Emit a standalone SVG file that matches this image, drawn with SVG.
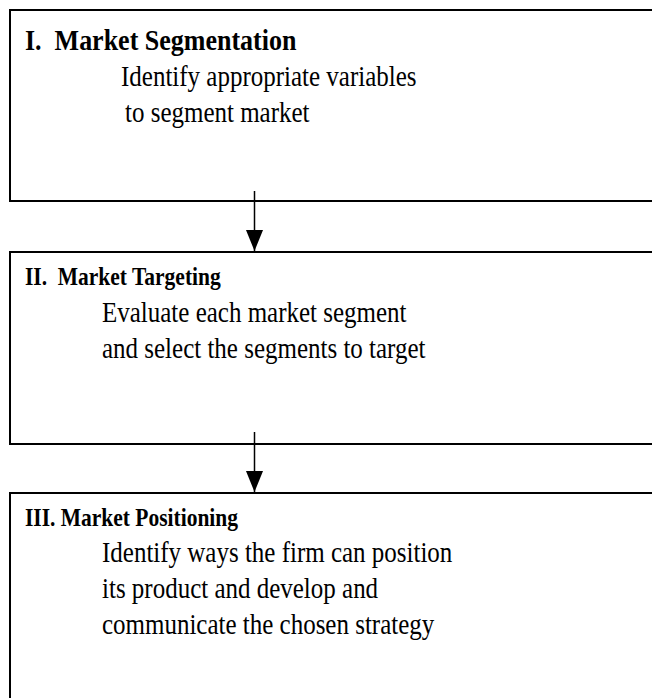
<svg xmlns="http://www.w3.org/2000/svg" width="652" height="698" viewBox="0 0 652 698">
<style>
.box{fill:#fff;stroke:#000;stroke-width:2}
.t{font-family:"Liberation Serif","Times New Roman",serif;fill:#000}
.h1{font-size:26px;font-weight:bold}
.h2{font-size:21.5px;font-weight:bold}
.b{font-size:25px}
.c{stroke:#000;stroke-width:1.5;fill:none}
</style>
<defs>
<marker id="ah" markerUnits="userSpaceOnUse" markerWidth="22" markerHeight="18" refX="21" refY="8.5" orient="auto">
<path d="M0,0 L21,8.5 L0,17 Z" fill="#000"/>
</marker>
</defs>
<rect width="652" height="698" fill="#fff"/>
<g id="node1">
<rect class="box" x="10" y="10" width="660" height="191"/>
<text class="t h1" transform="translate(25,50) scale(1,1.17)" xml:space="preserve">I.  Market Segmentation</text>
<text class="t b" transform="translate(121,86) scale(1,1.17)">Identify appropriate variables</text>
<text class="t b" transform="translate(125,121.5) scale(1,1.17)">to segment market</text>
</g>
<g id="node2">
<rect class="box" x="10" y="252" width="660" height="192"/>
<text class="t h2" transform="translate(25,285) scale(1,1.17)" xml:space="preserve">II.  Market Targeting</text>
<text class="t b" transform="translate(102,321.7) scale(1,1.17)">Evaluate each market segment</text>
<text class="t b" transform="translate(102,358) scale(1,1.17)">and select the segments to target</text>
</g>
<g id="node3">
<rect class="box" x="10" y="493" width="660" height="220"/>
<text class="t h2" transform="translate(25,525.5) scale(1,1.17)">III. Market Positioning</text>
<text class="t b" transform="translate(102,562) scale(1,1.17)">Identify ways the firm can position</text>
<text class="t b" transform="translate(102,598) scale(1,1.17)">its product and develop and</text>
<text class="t b" transform="translate(102,634) scale(1,1.17)">communicate the chosen strategy</text>
</g>
<g id="connectors">
<line class="c" x1="254.5" y1="191" x2="254.5" y2="251" marker-end="url(#ah)"/>
<line class="c" x1="254.5" y1="432" x2="254.5" y2="492" marker-end="url(#ah)"/>
</g>
</svg>
